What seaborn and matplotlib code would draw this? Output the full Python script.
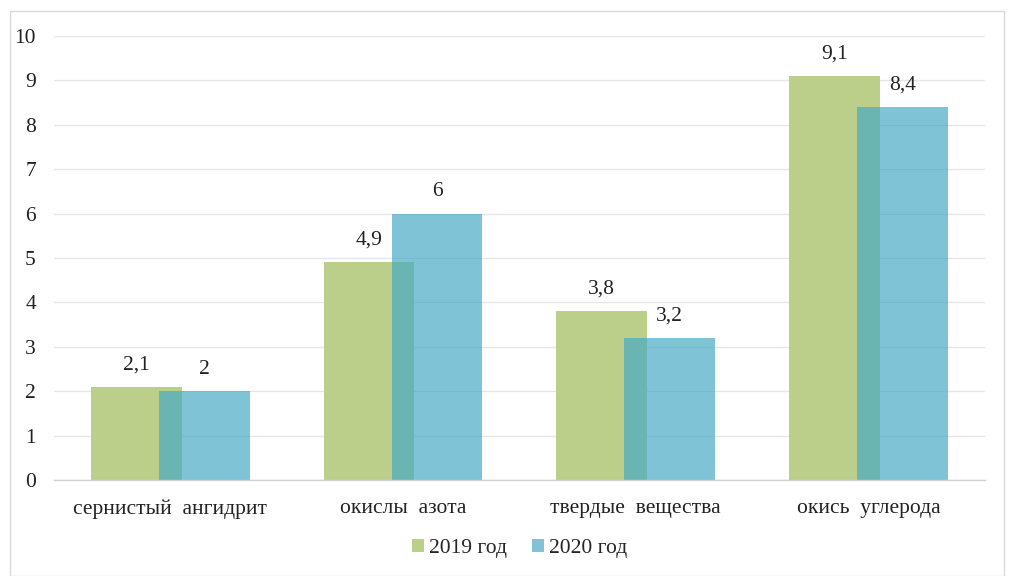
import matplotlib.pyplot as plt
import numpy as np
import pandas as pd
import seaborn as sns
from matplotlib.patches import Patch, Rectangle

# data
categories = ["сернистый  ангидрит", "окислы  азота", "твердые  вещества", "окись  углерода"]
values_2019 = [2.1, 4.9, 3.8, 9.1]
values_2020 = [2.0, 6.0, 3.2, 8.4]
series_names = ["2019 год", "2020 год"]

green = "#BBCF8A"
blue = "#46AAC4"
fs = 15.5

sns.set_theme(style="white")
plt.rcParams["font.family"] = ["Liberation Serif", "DejaVu Serif"]
plt.rcParams["font.size"] = fs

idx = np.arange(len(categories))
shift = 0.146
df19 = pd.DataFrame({"pos": idx - shift, "value": values_2019})
df20 = pd.DataFrame({"pos": idx + shift, "value": values_2020})

fig = plt.figure(figsize=(10.09, 5.76), dpi=100)
ax = fig.add_axes([0.0535, 0.1667, 0.9225, 0.7708])

sns.barplot(data=df19, x="pos", y="value", native_scale=True, width=0.39,
            color=green, saturation=1, linewidth=0, ax=ax)
sns.barplot(data=df20, x="pos", y="value", native_scale=True, width=0.39,
            color=blue, alpha=0.69, saturation=1, linewidth=0, ax=ax)

for cont in ax.containers:
    vals = [p.get_height() for p in cont]
    ax.bar_label(cont, labels=[f"{v:g}".replace(".", ",") for v in vals],
                 padding=9, fontsize=fs, color="#222222")

ax.set_xlim(-0.5, len(categories) - 0.5)
ax.set_ylim(0, 10)
ax.set_yticks(range(0, 11))
ax.set_xticks(idx)
ax.set_xticklabels(categories)
ax.set_xlabel("")
ax.set_ylabel("")
ax.tick_params(axis="x", length=0, pad=14, labelsize=fs, labelcolor="#222222")
ax.tick_params(axis="y", length=0, pad=13, labelsize=fs, labelcolor="#222222")

ax.grid(axis="y", color="#E6E6E6", linewidth=1)
ax.set_axisbelow(True)
for side in ["top", "right", "left"]:
    ax.spines[side].set_visible(False)
ax.spines["bottom"].set_color("#D0D0D0")
ax.spines["bottom"].set_linewidth(1)

handles = [Patch(facecolor=green, edgecolor="none"),
           Patch(facecolor="#7EC4D5", edgecolor="none")]
fig.legend(handles, series_names, loc="center", bbox_to_anchor=(0.515, 0.048),
           ncol=2, frameon=False, fontsize=fs, handlelength=0.55, handleheight=0.55,
           handletextpad=0.2, columnspacing=1.2)

# light frame around the chart area
fig.patches.append(Rectangle((0.010, 0.0), 0.985, 0.981, transform=fig.transFigure,
                             fill=False, edgecolor="#D9D9D9", linewidth=1))

fig.savefig("out.png", dpi=100)
